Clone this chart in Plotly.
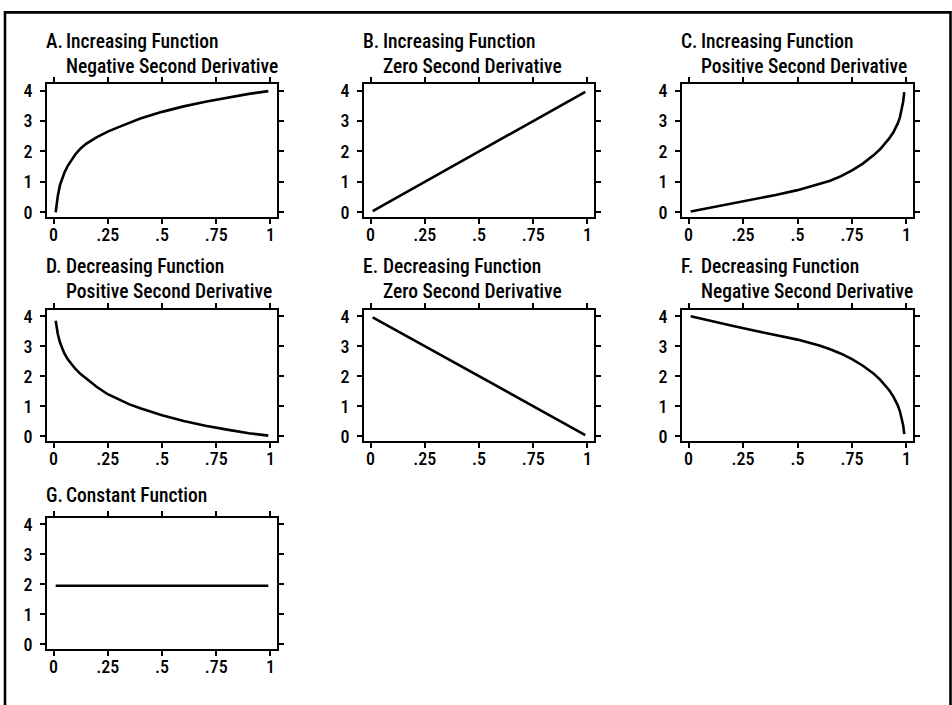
import plotly.graph_objects as go

# ---- data ----
xa = [0.01, 0.015, 0.02, 0.03, 0.04, 0.05, 0.065, 0.08, 0.1, 0.125, 0.15, 0.2, 0.25, 0.3, 0.35, 0.4, 0.5, 0.6, 0.7, 0.8, 0.9, 0.99]
ya = [0.0, 0.3, 0.55, 0.9, 1.12, 1.3, 1.52, 1.7, 1.9, 2.1, 2.25, 2.47, 2.65, 2.8, 2.95, 3.08, 3.3, 3.48, 3.63, 3.77, 3.89, 3.98]

xb = [0.01, 0.99]
yb = [0.04, 3.96]

xc = [0.01, 0.1, 0.2, 0.3, 0.4, 0.5, 0.6, 0.65, 0.7, 0.75, 0.8, 0.85, 0.88, 0.9, 0.92, 0.94, 0.95, 0.96, 0.97, 0.98, 0.985, 0.99]
yc = [0.03, 0.15, 0.28, 0.42, 0.57, 0.73, 0.92, 1.04, 1.19, 1.38, 1.6, 1.88, 2.08, 2.24, 2.42, 2.63, 2.76, 2.92, 3.12, 3.42, 3.64, 3.95]

xd = [0.01, 0.015, 0.02, 0.03, 0.04, 0.05, 0.065, 0.08, 0.1, 0.125, 0.15, 0.2, 0.25, 0.3, 0.35, 0.4, 0.5, 0.6, 0.7, 0.8, 0.9, 0.99]
yd = [3.85, 3.6, 3.4, 3.12, 2.92, 2.76, 2.57, 2.42, 2.25, 2.07, 1.92, 1.64, 1.4, 1.22, 1.06, 0.93, 0.7, 0.51, 0.35, 0.22, 0.1, 0.02]

xe = [0.01, 0.99]
ye = [3.96, 0.04]

xf = [0.01, 0.1, 0.2, 0.3, 0.4, 0.5, 0.6, 0.65, 0.7, 0.75, 0.8, 0.85, 0.88, 0.9, 0.92, 0.94, 0.95, 0.96, 0.97, 0.98, 0.985, 0.99]
yf = [4.0, 3.84, 3.68, 3.52, 3.38, 3.22, 3.02, 2.9, 2.75, 2.57, 2.35, 2.08, 1.88, 1.72, 1.54, 1.32, 1.19, 1.03, 0.83, 0.56, 0.36, 0.07]

xg = [0.01, 0.99]
yg = [1.95, 1.95]

x_tickvals = [0, 0.25, 0.5, 0.75, 1]
x_ticktext = ["0", ".25", ".5", ".75", "1"]
y_tickvals = [0, 1, 2, 3, 4]
y_ticktext = ["0", "1", "2", "3", "4"]

panel_letters = ["A.", "B.", "C.", "D.", "E.", "F.", "G."]
panel_line1 = ["Increasing Function", "Increasing Function", "Increasing Function",
               "Decreasing Function", "Decreasing Function", "Decreasing Function",
               "Constant Function"]
panel_line2 = ["Negative Second Derivative", "Zero Second Derivative", "Positive Second Derivative",
               "Positive Second Derivative", "Zero Second Derivative", "Negative Second Derivative",
               ""]

series = [(xa, ya), (xb, yb), (xc, yc), (xd, yd), (xe, ye), (xf, yf), (xg, yg)]

# ---- layout geometry (pixels) ----
W, H = 952, 705
FONT = "Roboto Condensed, DejaVu Sans Condensed, sans-serif"
TITLE_SIZE = 19.5
TICK_SIZE = 18
col_px = [(47, 277), (364, 594), (682, 913)]
row_px = [(81, 216), (310, 443), (521, 654)]

fig = go.Figure()
layout = dict(
    width=W, height=H, autosize=False,
    margin=dict(l=0, r=0, t=0, b=0),
    paper_bgcolor="white", plot_bgcolor="white",
    showlegend=False,
    font=dict(family=FONT, size=TICK_SIZE, color="black"),
)
annotations = []

for i, (xs, ys) in enumerate(series):
    r, c = divmod(i, 3)
    n = i + 1
    xk = "xaxis" if n == 1 else f"xaxis{n}"
    yk = "yaxis" if n == 1 else f"yaxis{n}"
    xr = "x" if n == 1 else f"x{n}"
    yr = "y" if n == 1 else f"y{n}"
    fig.add_trace(go.Scatter(x=xs, y=ys, mode="lines", xaxis=xr, yaxis=yr,
                             line=dict(color="black", width=2.6),
                             hoverinfo="skip"))
    x0, x1 = col_px[c]
    y0, y1 = row_px[r]
    axcommon = dict(showline=True, mirror="ticks", linecolor="black", linewidth=1.8,
                    ticks="outside", ticklen=5, tickwidth=1.5, tickcolor="black",
                    showgrid=False, zeroline=False, fixedrange=True,
                    tickfont=dict(family=FONT, size=TICK_SIZE, color="black", weight=500))
    layout[xk] = dict(domain=[x0 / W, x1 / W], range=[-0.03, 1.03], anchor=yr,
                      tickvals=x_tickvals, ticktext=x_ticktext, ticklabelstandoff=-4, **axcommon)
    layout[yk] = dict(domain=[1 - y1 / H, 1 - y0 / H], range=[-0.15, 4.22], anchor=xr,
                      tickvals=y_tickvals, ticktext=y_ticktext, ticklabelstandoff=4, **axcommon)

    # titles
    lx = x0 - 3
    tx = x0 + 17
    tf = dict(family=FONT, size=TITLE_SIZE, color="black", weight=500)
    if panel_line2[i]:
        block_y = y0 - 30.75
        letter_y = y0 - 43.25
        block_text = panel_line1[i] + "<br>" + panel_line2[i]
    else:
        block_y = y0 - 13.4 - 9.5
        letter_y = block_y
        block_text = panel_line1[i]
    annotations.append(dict(xref="paper", yref="paper", x=lx / W, y=1 - letter_y / H,
                            xanchor="left", yanchor="middle", showarrow=False,
                            text=panel_letters[i], font=tf))
    annotations.append(dict(xref="paper", yref="paper", x=tx / W, y=1 - block_y / H,
                            xanchor="left", yanchor="middle", align="left", showarrow=False,
                            text=block_text, font=tf))

layout["annotations"] = annotations
layout["shapes"] = [dict(type="rect", xref="paper", yref="paper",
                         x0=5 / W, x1=950.5 / W, y0=-0.05, y1=1 - 8.5 / H,
                         line=dict(color="black", width=2.6), fillcolor="rgba(0,0,0,0)")]
fig.update_layout(**layout)
fig.write_html("out.html", config={"displayModeBar": False},
               post_script="document.body.style.margin='0';document.body.style.padding='0';")
